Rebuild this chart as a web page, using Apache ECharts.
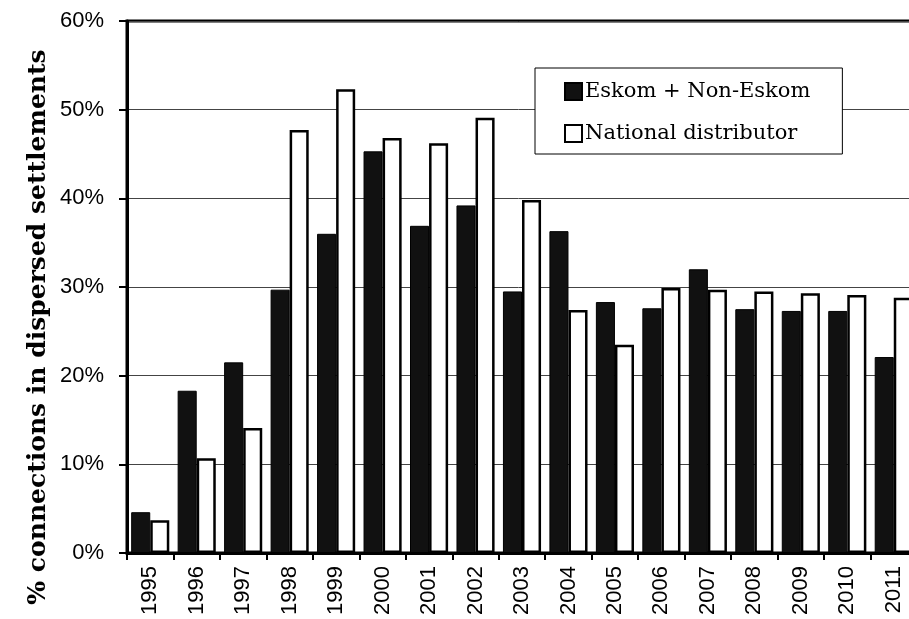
<!DOCTYPE html>
<html>
<head>
<meta charset="utf-8">
<script src="https://cdn.jsdelivr.net/npm/echarts@6/dist/echarts.min.js"></script>
<style>html,body{margin:0;padding:0;background:#fff}#c{width:909px;height:619px}</style>
</head>
<body>
<div id="c"></div>
<script>
const years = ['1995','1996','1997','1998','1999','2000','2001','2002','2003','2004','2005','2006','2007','2008','2009','2010','2011'];
const eskom = [4.6,18.3,21.5,29.7,36.0,45.3,36.9,39.2,29.5,36.3,28.3,27.6,32.0,27.5,27.3,27.3,22.1];
const national = [3.7,10.7,14.1,47.7,52.3,46.8,46.2,49.1,39.8,27.4,23.5,29.9,29.7,29.5,29.3,29.1,28.8];
const yTicks = [0,10,20,30,40,50,60];

const chart = echarts.init(document.getElementById('c'), null, {renderer:'canvas'});
chart.setOption({
  animation:false,
  backgroundColor:'#fff',
  grid:{left:127, top:21, bottom:66, width:790, outerBoundsMode:'none', containLabel:false,
        show:true, borderColor:'#000', borderWidth:3, backgroundColor:'transparent'},
  legend:{
    orient:'vertical', left:535, top:68,
    backgroundColor:'#fff', borderColor:'#000', borderWidth:1,
    padding:[13,32,10,29], itemGap:21, itemWidth:17, itemHeight:17, icon:'rect',
    textStyle:{fontFamily:'DejaVu Serif', fontSize:21, color:'#000', padding:[0,0,0,-2]},
    data:['Eskom + Non-Eskom','National distributor']
  },
  xAxis:{
    type:'category', data:years,
    axisLine:{lineStyle:{color:'#000', width:3}},
    axisTick:{show:true, length:7, lineStyle:{color:'#000', width:2}},
    axisLabel:{rotate:90, fontFamily:'Liberation Sans', fontSize:22, color:'#000', margin:13},
    splitLine:{show:false}
  },
  yAxis:{
    type:'value', min:yTicks[0], max:yTicks[yTicks.length-1], interval:10,
    axisLine:{show:true, lineStyle:{color:'#000', width:3}},
    axisTick:{show:true, length:8, lineStyle:{color:'#000', width:2}},
    axisLabel:{formatter:'{value}%', fontFamily:'Liberation Sans', fontSize:22, color:'#000', margin:23},
    splitLine:{show:true, lineStyle:{color:'#444', width:1}}
  },
  graphic:[{
    type:'text', x:38, y:327, rotation:Math.PI/2,
    style:{text:'% connections in dispersed settlements', fontFamily:'DejaVu Serif', fontWeight:'bold', fontSize:25, fill:'#000', align:'center', verticalAlign:'middle'}
  }],
  series:[
    {name:'Eskom + Non-Eskom', type:'bar', data:eskom, barGap:'0%', barCategoryGap:'18%',
     itemStyle:{color:'#111', borderColor:'#000', borderWidth:1}},
    {name:'National distributor', type:'bar', data:national, barGap:'0%', barCategoryGap:'18%',
     itemStyle:{color:'#fff', borderColor:'#000', borderWidth:2.5}}
  ]
});
</script>
</body>
</html>
